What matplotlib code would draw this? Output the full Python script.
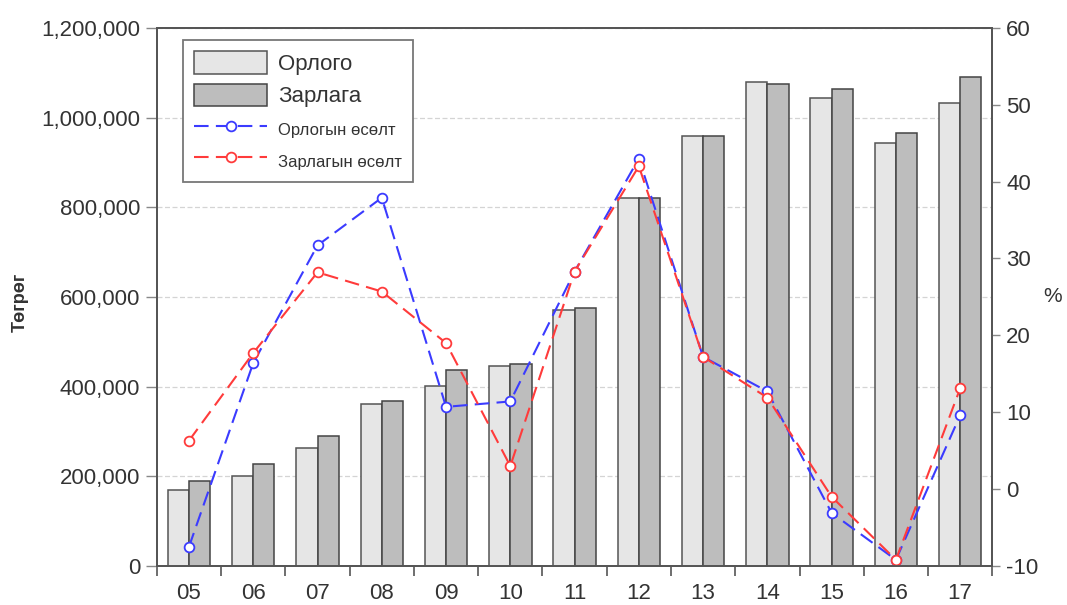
import matplotlib
matplotlib.use('Agg')
import matplotlib.pyplot as plt
import numpy as np
from matplotlib.ticker import FuncFormatter, FixedLocator

years = ['05', '06', '07', '08', '09', '10', '11', '12', '13', '14', '15', '16', '17']
orlogo = [170000, 200000, 263000, 362000, 401000, 446000, 571000, 820000, 959000, 1079000, 1044000, 944000, 1033000]
zarlaga = [190000, 227000, 290000, 368000, 437000, 450000, 575000, 820000, 959000, 1075000, 1063000, 965000, 1090000]
orlogo_growth = [-7.5, 16.4, 31.7, 37.9, 10.7, 11.4, 28.3, 43.0, 17.2, 12.7, -3.1, -9.2, 9.6]
zarlaga_growth = [6.3, 17.7, 28.2, 25.7, 19.0, 3.0, 28.3, 42.0, 17.2, 11.9, -1.0, -9.2, 13.1]

txt = '#333333'
spine = '#555555'
plt.rcParams['font.family'] = ['Liberation Sans', 'DejaVu Sans']
plt.rcParams['axes.unicode_minus'] = False

fig = plt.figure(figsize=(10.67, 6.05), dpi=100)
ax = fig.add_axes([0.147, 0.0645, 0.783, 0.8895])
ax2 = ax.twinx()

x = np.arange(len(years))
w = 0.33
ax.bar(x - w / 2, orlogo, width=w, color='#e6e6e6', edgecolor='#555555', linewidth=1.1, label='Орлого', zorder=3)
ax.bar(x + w / 2, zarlaga, width=w, color='#bdbdbd', edgecolor='#444444', linewidth=1.1, label='Зарлага', zorder=3)

dash = (0, (7, 3.5))
ax2.plot(x, orlogo_growth, color='#3b3bff', linestyle=dash, linewidth=1.5, marker='o',
         markersize=7, markerfacecolor='white', markeredgecolor='#3b3bff', markeredgewidth=1.3, label='Орлогын өсөлт')
ax2.plot(x, zarlaga_growth, color='#ff3b3b', linestyle=dash, linewidth=1.5, marker='o',
         markersize=7, markerfacecolor='white', markeredgecolor='#ff3b3b', markeredgewidth=1.3, label='Зарлагын өсөлт')

ax.set_xlim(-0.5, len(years) - 0.5)
ax.set_ylim(0, 1200000)
ax2.set_ylim(-10, 60)
ax.set_yticks(np.arange(0, 1200001, 200000))
ax.yaxis.set_major_formatter(FuncFormatter(lambda v, p: f'{int(v):,}'))
ax2.set_yticks(np.arange(-10, 61, 10))

ax.set_xticks(x)
ax.set_xticklabels(years)
ax.xaxis.set_minor_locator(FixedLocator(np.arange(-0.5, len(years), 1.0)))
ax.tick_params(axis='x', which='major', length=0, pad=12, labelsize=16, labelcolor=txt)
ax.tick_params(axis='x', which='minor', length=7, width=1.2, color=spine, direction='out')
ax.tick_params(axis='y', length=8, width=1.0, color='#888888', labelsize=16, labelcolor=txt, pad=4)
ax2.tick_params(axis='y', length=6, width=1.0, color='#888888', labelsize=16, labelcolor=txt, pad=4)

ax.grid(axis='y', color='#d4d4d4', linestyle=(0, (4, 2)), linewidth=0.9, zorder=0)
ax.set_axisbelow(True)

for a in (ax, ax2):
    for s in a.spines.values():
        s.set_color(spine)
        s.set_linewidth(1.3)

ax.set_ylabel('Төгрөг', fontsize=13, fontweight='bold', color=txt, labelpad=0)
ax.yaxis.set_label_coords(-0.153, 0.49)
ax2.set_ylabel('%', fontsize=15, color=txt, rotation=0, va='center', ha='center')
ax2.yaxis.set_label_coords(1.072, 0.5)

h1, l1 = ax.get_legend_handles_labels()
h2, l2 = ax2.get_legend_handles_labels()
leg = ax2.legend(h1 + h2, l1 + l2, loc='upper left', bbox_to_anchor=(0.031, 0.978), borderaxespad=0,
                 fancybox=False, edgecolor='#777777', framealpha=1, fontsize=16, handlelength=3.3,
                 handleheight=1.2, labelspacing=0.4, borderpad=0.5, handletextpad=0.5)
leg.get_frame().set_linewidth(1.3)
for i, t in enumerate(leg.get_texts()):
    t.set_color(txt)
    if i >= 2:
        t.set_fontsize(12)

fig.savefig('out.png', dpi=100)
